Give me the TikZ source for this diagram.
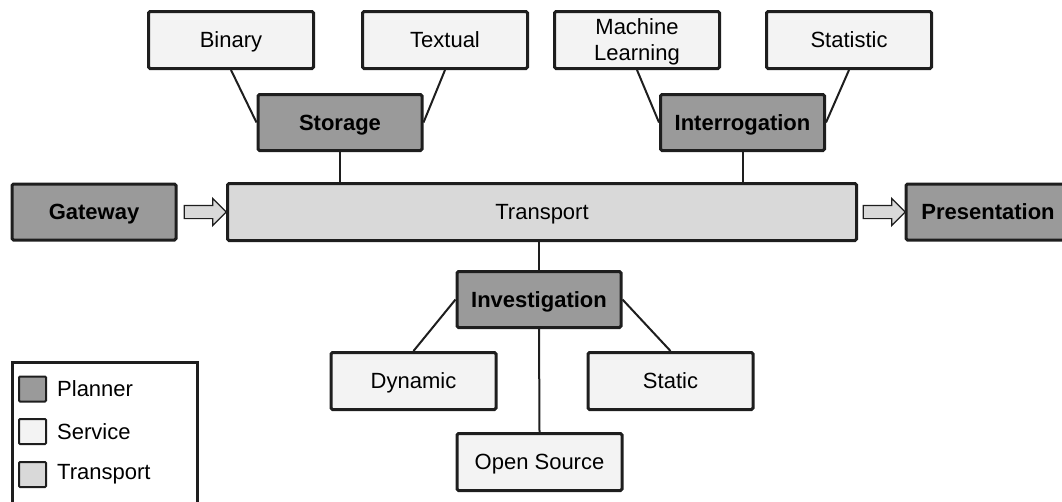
\documentclass[tikz,border=0pt]{standalone}
\usepackage{fontspec}
\setmainfont{Liberation Sans}
\usetikzlibrary{shapes.arrows,positioning}
\definecolor{plannerfill}{HTML}{9A9A9A}
\definecolor{servicefill}{HTML}{F3F3F3}
\definecolor{transportfill}{HTML}{D9D9D9}
\definecolor{edge}{HTML}{1E1E1E}
\newcommand\diagfont{\fontsize{22}{26}\selectfont}
\tikzset{box/.style={draw=edge, line width=3pt, rounded corners=1.5pt, inner sep=0pt, align=center, font=\diagfont,
    text height=15.5pt, text depth=0pt},
  planner/.style={box, fill=plannerfill, font=\diagfont\bfseries, minimum width=164pt, minimum height=56pt},
  service/.style={box, fill=servicefill, minimum width=165pt, minimum height=57pt},
  carrier/.style={box, fill=transportfill, minimum width=629pt, minimum height=57pt},
  link/.style={draw=edge, line width=2pt},
  flow/.style={shape=single arrow, draw=edge, line width=1.2pt, fill=transportfill, minimum height=42pt,
    single arrow head extend=7pt, inner xsep=0pt, inner ysep=6pt},
  swatch/.style={draw=edge, line width=2pt, rounded corners=1pt, minimum width=27pt, minimum height=25pt, inner sep=0pt}}

\begin{document}
\begin{tikzpicture}[x=1pt, y=-1pt]
  \useasboundingbox (0,0) rectangle (1062,501);
  % services on top
  \node[service] (binary)    at (231,40) {Binary};
  \node[service] (textual)   at (445,40) {Textual};
  \node[service, text height=41.5pt] (learning) at (637,40) {Machine\\Learning};
  \node[service] (statistic) at (849,40) {Statistic};
  % planners over the transport
  \node[planner] (storage)       at (340,122.5) {Storage};
  \node[planner] (interrogation) at (742.5,122.5) {Interrogation};
  % main row
  \node[planner] (gateway)      at (94,212)  {Gateway};
  \node[carrier] (transport)    at (542,212) {Transport};
  \node[planner] (presentation) at (988,212) {Presentation};
  \node[flow] (inflow)  at (202,212) {};
  \node[flow] (outflow) at (881,212) {};
  % investigation branch
  \node[planner] (investigation) at (539,299.5) {Investigation};
  \node[service] (dynamic)    at (413.5,381) {Dynamic};
  \node[service] (static)     at (670.5,381) {Static};
  \node[service] (opensource) at (539.5,462) {Open Source};
  % links
  \draw[link] (binary.south) -- (storage.west);
  \draw[link] (textual.south) -- (storage.east);
  \draw[link] (learning.south) -- (interrogation.west);
  \draw[link] (statistic.south) -- (interrogation.east);
  \draw[link] (storage.south) -- (storage.south |- transport.north);
  \draw[link] (interrogation.south) -- (interrogation.south |- transport.north);
  \draw[link] (investigation.north |- transport.south) -- (investigation.north);
  \draw[link] (investigation.west) -- (dynamic.north);
  \draw[link] (investigation.east) -- (static.north);
  \draw[link] (investigation.south) -- (opensource.north);
  % legend
  \node[draw=edge, line width=2.5pt, minimum width=185pt, minimum height=160pt, inner sep=0pt, anchor=north west] (legend) at (11,361) {};
  \foreach \y/\c/\t in {389/plannerfill/Planner, 431.5/servicefill/Service, 474.5/transportfill/Transport}{
    \node[swatch, fill=\c] (sw-\t) at (32.5,\y) {};
    \node[right=10pt of sw-\t, inner sep=0pt, font=\diagfont] (lb-\t) {\t};
  }
\end{tikzpicture}
\end{document}
